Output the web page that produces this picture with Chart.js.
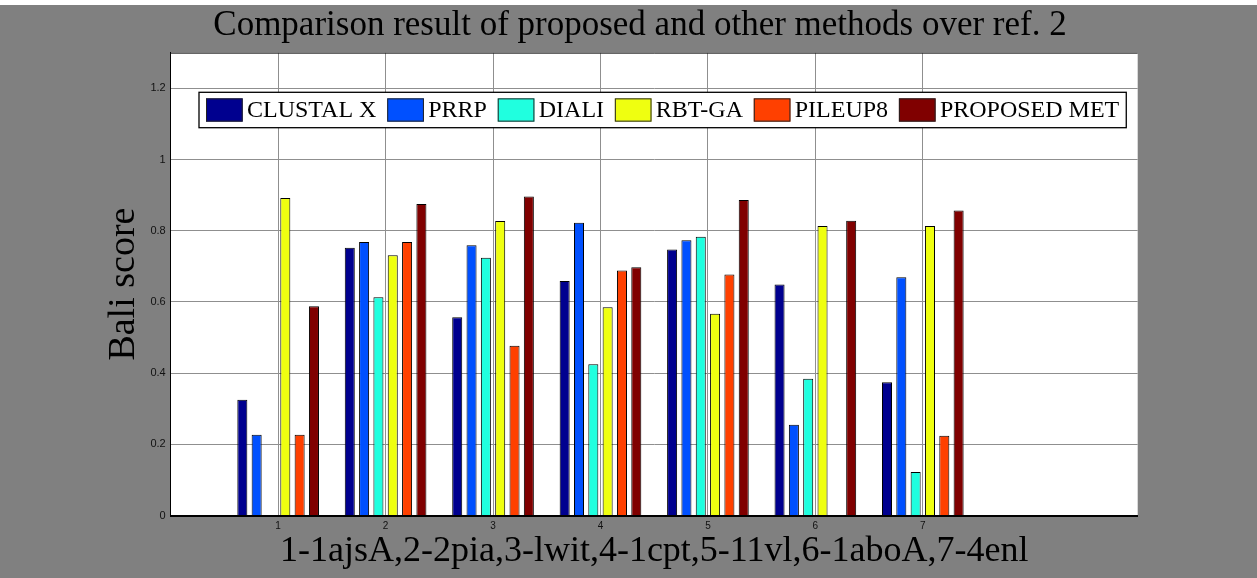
<!DOCTYPE html>
<html>
<head>
<meta charset="utf-8">
<script src="https://cdn.jsdelivr.net/npm/chart.js@4/dist/chart.umd.min.js"></script>
<style>
  html, body { margin: 0; padding: 0; background: #ffffff; }
  #wrap { position: absolute; left: 0; top: 0; width: 1257px; height: 578px; }
  canvas { display: block; }
</style>
</head>
<body>
<div id="wrap"><canvas id="c" width="1257" height="578"></canvas></div>
<script>
// ---- data ----
const categories = [1, 2, 3, 4, 5, 6, 7];
const xTickLabels = ['1', '2', '3', '4', '5', '6', '7'];
const yTicks = [0, 0.2, 0.4, 0.6, 0.8, 1, 1.2];
const yTickLabels = ['0', '0.2', '0.4', '0.6', '0.8', '1', '1.2'];
const seriesNames = ['CLUSTAL X', 'PRRP', 'DIALI', 'RBT-GA', 'PILEUP8', 'PROPOSED MET'];
const clustalX = [0.325, 0.752, 0.557, 0.659, 0.747, 0.649, 0.374];
const prrp     = [0.227, 0.768, 0.759, 0.822, 0.773, 0.255, 0.669];
const diali    = [0.000, 0.613, 0.724, 0.425, 0.783, 0.384, 0.122];
const rbtGa    = [0.892, 0.731, 0.827, 0.585, 0.567, 0.813, 0.813];
const pileup8  = [0.227, 0.768, 0.477, 0.688, 0.677, 0.000, 0.224];
const proposed = [0.588, 0.875, 0.896, 0.697, 0.886, 0.828, 0.857];
const seriesValues = [clustalX, prrp, diali, rbtGa, pileup8, proposed];
const seriesColors = ['#00008f', '#0050ff', '#20ffdf', '#efff10', '#ff4000', '#800000'];

const titleText = 'Comparison result of proposed and other methods over ref. 2';
const xTitle = '1-1ajsA,2-2pia,3-lwit,4-1cpt,5-11vl,6-1aboA,7-4enl';
const yTitle = 'Bali score';

const SERIF = '"Liberation Serif", "Times New Roman", serif';
const SANS = '"Liberation Sans", Arial, sans-serif';

const bgPlugin = {
  id: 'bg',
  beforeDraw(chart) {
    const ctx = chart.ctx, a = chart.chartArea;
    ctx.save();
    ctx.fillStyle = '#808080';
    ctx.fillRect(0, 0, chart.width, chart.height);
    ctx.fillStyle = '#ffffff';
    ctx.fillRect(0, 0, chart.width, 5);
    ctx.fillRect(a.left, a.top, a.right - a.left, a.bottom - a.top);
    ctx.restore();
  },
  afterDatasetsDraw(chart) {
    const ctx = chart.ctx, a = chart.chartArea;
    ctx.save();
    // top border
    ctx.strokeStyle = '#222';
    ctx.lineWidth = 1;
    ctx.beginPath();
    ctx.moveTo(a.left, a.top + 0.5);
    ctx.lineTo(a.right, a.top + 0.5);
    ctx.stroke();
    // legend (inside plot area, MATLAB style)
    ctx.font = '24px ' + SERIF;
    const sw = 36.7, sh = 23.3, gapT = 4.3, gapI = 10.8, padX = 7, h = 35.4;
    const ds = chart.data.datasets;
    const widths = ds.map(d => ctx.measureText(d.label).width);
    let total = 0;
    widths.forEach((w, i) => { total += sw + gapT + w + (i ? gapI : 0); });
    const left = a.left + 28.3, top = a.top + 39.6, bw = total + 2 * padX;
    ctx.fillStyle = '#fff';
    ctx.fillRect(left, top, bw, h);
    ctx.strokeStyle = '#000';
    ctx.lineWidth = 1.3;
    ctx.strokeRect(left, top, bw, h);
    let x = left + padX;
    ds.forEach((d, i) => {
      const sy = top + (h - sh) / 2;
      ctx.fillStyle = d.backgroundColor;
      ctx.fillRect(x, sy, sw, sh);
      ctx.strokeStyle = '#222';
      ctx.lineWidth = 1;
      ctx.strokeRect(x + 0.5, sy + 0.5, sw - 1, sh - 1);
      ctx.fillStyle = '#000';
      ctx.textBaseline = 'middle';
      ctx.textAlign = 'left';
      ctx.fillText(d.label, x + sw + gapT, top + h / 2 + 1);
      x += sw + gapT + widths[i] + gapI;
    });
    ctx.restore();
  }
};

const datasets = seriesNames.map((name, s) => ({
  label: name,
  data: categories.map((c, i) => ({ x: c, y: seriesValues[s][i] })),
  backgroundColor: seriesColors[s],
  borderColor: '#000',
  borderWidth: 1,
  categoryPercentage: 0.8,
  barPercentage: 0.7,
  yAxisID: 'y'
}));

new Chart(document.getElementById('c'), {
  type: 'bar',
  data: { datasets },
  options: {
    responsive: false,
    animation: false,
    devicePixelRatio: 1,
    layout: { padding: { left: 23, right: 0, top: 0, bottom: 0 } },
    plugins: {
      legend: { display: false },
      tooltip: { enabled: false },
      title: {
        display: true,
        text: titleText,
        color: '#000',
        font: { family: SERIF, size: 35, weight: 'normal' },
        padding: { top: 4.5, bottom: 6.2 }
      }
    },
    scales: {
      x: {
        type: 'linear',
        min: 0,
        max: 9,
        offset: false,
        afterBuildTicks(scale) { scale.ticks = categories.map(v => ({ value: v })); },
        afterFit(scale) { scale.height = 62.5; },
        ticks: {
          autoSkip: false,
          maxRotation: 0,
          padding: 5,
          color: '#111',
          font: { family: SANS, size: 10 },
          callback: (v, i) => xTickLabels[i]
        },
        grid: { color: '#8f8f8f', lineWidth: 1, drawTicks: false, offset: false },
        border: { display: true, color: '#000', width: 2 },
        title: {
          display: true,
          text: xTitle,
          color: '#000',
          font: { family: SERIF, size: 36, weight: 'normal' },
          padding: { top: 0, bottom: 5.2 }
        }
      },
      y: {
        type: 'linear',
        position: 'left',
        min: 0,
        max: 1.3,
        afterBuildTicks(scale) { scale.ticks = yTicks.map(v => ({ value: v })); },
        afterFit(scale) { scale.width = 147.7; },
        ticks: {
          padding: 5,
          color: '#111',
          font: { family: SANS, size: 11 },
          callback: (v, i) => yTickLabels[i]
        },
        grid: { color: '#8f8f8f', lineWidth: 1, drawTicks: false },
        border: { display: true, color: '#000', width: 1 },
        title: {
          display: true,
          text: yTitle,
          color: '#000',
          font: { family: SERIF, size: 38, weight: 'normal' },
          padding: { top: 78, bottom: 0 }
        }
      },
      y2: {
        type: 'linear',
        position: 'right',
        display: true,
        afterFit(scale) { scale.width = 119.3; },
        ticks: { display: false },
        grid: { display: false, drawOnChartArea: false },
        border: { display: false },
        title: { display: false }
      }
    }
  },
  plugins: [bgPlugin]
});
</script>
</body>
</html>
